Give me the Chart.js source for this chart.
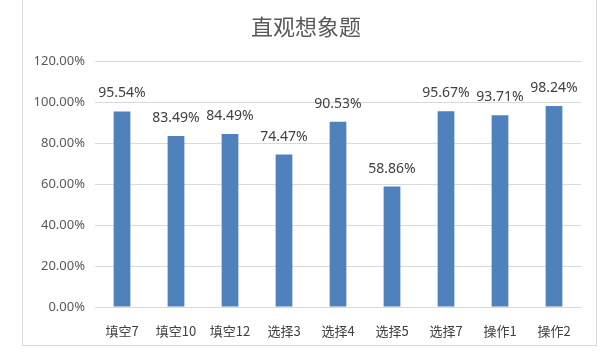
<!DOCTYPE html>
<html>
<head>
<meta charset="utf-8">
<script src="https://cdn.jsdelivr.net/npm/chart.js@4"></script>
<style>
  html, body { margin: 0; padding: 0; background: #fff; }
  #wrap { position: relative; width: 616px; height: 354px; }
  #frame { position: absolute; left: 22px; top: 0px; width: 575px; height: 346px;
           border: 1px solid #d9d9d9; border-top: none; box-sizing: border-box; pointer-events: none; }
</style>
</head>
<body>
<div id="wrap">
  <canvas id="bar-chart" width="616" height="354"></canvas>
  <div id="frame"></div>
</div>
<script>
const titulo = "直观想象题";
const categorias = ["填空7", "填空10", "填空12", "选择3", "选择4", "选择5", "选择7", "操作1", "操作2"];
const valores = [95.54, 83.49, 84.49, 74.47, 90.53, 58.86, 95.67, 93.71, 98.24];
const yTicks = [0, 20, 40, 60, 80, 100, 120];

const fonteCJK = '"Noto Sans CJK SC", "Noto Sans", sans-serif';

// rotulos em cima das barras
const rotulos = {
    id: "rotulos",
    afterDatasetsDraw(chart) {
        const ctx = chart.ctx;
        const meta = chart.getDatasetMeta(0);
        ctx.save();
        ctx.font = '14px "Noto Sans", sans-serif';
        ctx.fillStyle = "#404040";
        ctx.textAlign = "center";
        ctx.textBaseline = "middle";
        meta.data.forEach(function(bar, i) {
            ctx.fillText(valores[i].toFixed(2) + "%", bar.x, bar.y - 18);
        });
        ctx.restore();
    }
};

new Chart(document.getElementById("bar-chart"), {
    type: "bar",
    data: {
        labels: categorias,
        datasets: [{
            label: titulo,
            backgroundColor: "#4f81bd",
            data: valores,
            barPercentage: 0.31,
            categoryPercentage: 1
        }]
    },
    options: {
        responsive: false,
        animation: false,
        layout: { padding: { left: 31, right: 35, top: 0, bottom: 0 } },
        plugins: {
            legend: { display: false },
            tooltip: { enabled: false },
            title: {
                display: true,
                text: titulo,
                color: "#595959",
                font: { family: fonteCJK, size: 22, weight: "normal" },
                padding: { top: 13, bottom: 22 }
            }
        },
        scales: {
            x: {
                grid: { display: false },
                border: { color: "#d9d9d9" },
                ticks: { color: "#404040", font: { family: fonteCJK, size: 13 }, padding: 8 },
                afterFit(scale) { scale.height = 47; }
            },
            y: {
                min: 0,
                max: 120,
                afterBuildTicks(scale) { scale.ticks = yTicks.map(v => ({ value: v })); },
                grid: { color: "#d9d9d9", drawTicks: false },
                border: { display: false },
                ticks: {
                    color: "#595959",
                    font: { family: '"Noto Sans", sans-serif', size: 13 },
                    padding: 10,
                    callback: v => v.toFixed(2) + "%"
                },
                afterFit(scale) { scale.width = 64; }
            }
        }
    },
    plugins: [rotulos]
});
</script>
</body>
</html>
